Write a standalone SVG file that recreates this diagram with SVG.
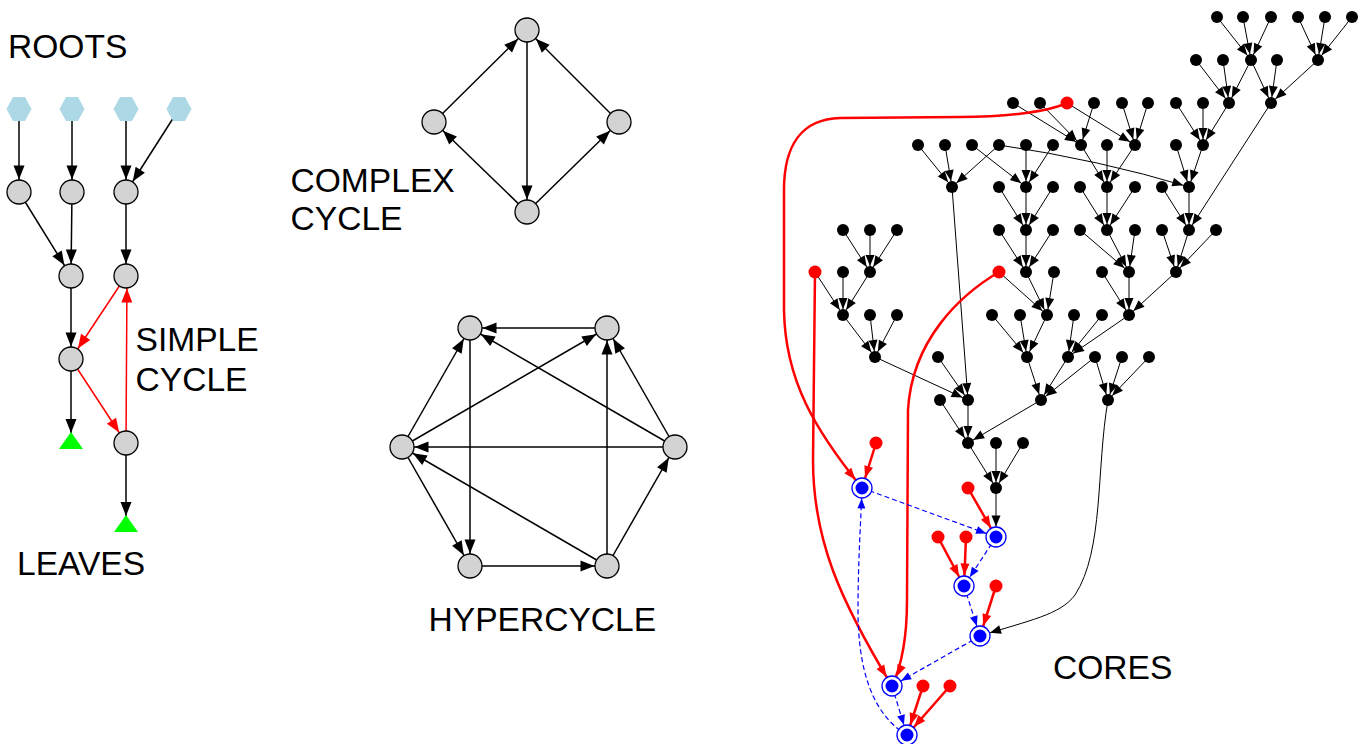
<svg xmlns="http://www.w3.org/2000/svg" width="1370" height="744" viewBox="0 0 1370 744">
<style>
.e{fill:none;stroke:#000;stroke-width:1.5;marker-end:url(#mL)}
.er{fill:none;stroke:#f00;stroke-width:1.5;marker-end:url(#mLR)}
.t{fill:none;stroke:#000;stroke-width:1;marker-end:url(#mK)}
.tb{fill:none;stroke:#000;stroke-width:1;marker-end:url(#mKB)}
.tr{fill:none;stroke:#f00;stroke-width:2.5;marker-end:url(#mR)}
.td{fill:none;stroke:#00f;stroke-width:1.2;stroke-dasharray:5,3;marker-end:url(#mB)}
.g{fill:#d3d3d3;stroke:#000;stroke-width:1.3}
.k{fill:#000}
.r{fill:#f00}
.hx{fill:#add8e6}
.lf{fill:#0f0}
.bo{fill:#fff;stroke:#00f;stroke-width:1.3}
.bi{fill:#00f}
text{font-family:"Liberation Sans",Arial,Helvetica,sans-serif;font-size:33.6px;fill:#000}
</style>
<defs>
<marker id="mL" markerUnits="userSpaceOnUse" markerWidth="14" markerHeight="11" refX="26.5" refY="5.5" orient="auto" overflow="visible"><path d="M0,0L14,5.5L0,11z" fill="#000"/></marker>
<marker id="mLR" markerUnits="userSpaceOnUse" markerWidth="14" markerHeight="11" refX="26.5" refY="5.5" orient="auto" overflow="visible"><path d="M0,0L14,5.5L0,11z" fill="#f00"/></marker>
<marker id="mK" markerUnits="userSpaceOnUse" markerWidth="11" markerHeight="9" refX="17" refY="4.5" orient="auto" overflow="visible"><path d="M0,0L11,4.5L0,9z" fill="#000"/></marker>
<marker id="mKB" markerUnits="userSpaceOnUse" markerWidth="11" markerHeight="9" refX="21.5" refY="4.5" orient="auto" overflow="visible"><path d="M0,0L11,4.5L0,9z" fill="#000"/></marker>
<marker id="mR" markerUnits="userSpaceOnUse" markerWidth="12" markerHeight="9" refX="22.5" refY="4.5" orient="auto" overflow="visible"><path d="M0,0L12,4.5L0,9z" fill="#f00"/></marker>
<marker id="mB" markerUnits="userSpaceOnUse" markerWidth="10" markerHeight="8" refX="20.5" refY="4" orient="auto" overflow="visible"><path d="M0,0L10,4L0,8z" fill="#00f"/></marker>
</defs>
<rect width="1370" height="744" fill="#fff"/>

<g id="connectors">
<!-- left -->
<line class="e" x1="19" y1="109" x2="19" y2="192"/>
<line class="e" x1="72" y1="109" x2="72" y2="192"/>
<line class="e" x1="126" y1="109" x2="126" y2="192"/>
<line class="e" x1="179" y1="109" x2="126" y2="192"/>
<line class="e" x1="19" y1="192" x2="71" y2="276"/>
<line class="e" x1="72" y1="192" x2="71" y2="276"/>
<line class="e" x1="126" y1="192" x2="126" y2="276"/>
<line class="e" x1="71" y1="276" x2="71" y2="359"/>
<line class="e" x1="71" y1="359" x2="71" y2="445.5"/>
<line class="e" x1="126" y1="443" x2="126" y2="528.5"/>
<line class="er" x1="126" y1="276" x2="71" y2="359"/>
<line class="er" x1="71" y1="359" x2="126" y2="443"/>
<line class="er" x1="126" y1="443" x2="127" y2="276"/>
<!-- complex cycle -->
<line class="e" x1="434" y1="122" x2="527" y2="30"/>
<line class="e" x1="527" y1="212" x2="434" y2="122"/>
<line class="e" x1="527" y1="30" x2="527" y2="212"/>
<line class="e" x1="527" y1="212" x2="619" y2="122"/>
<line class="e" x1="619" y1="122" x2="527" y2="30"/>
<!-- hypercycle -->
<line class="e" x1="607" y1="328" x2="470" y2="328"/>
<line class="e" x1="402" y1="447" x2="470" y2="328"/>
<line class="e" x1="675" y1="447" x2="470" y2="328"/>
<line class="e" x1="402" y1="447" x2="607" y2="328"/>
<line class="e" x1="607" y1="566" x2="607" y2="328"/>
<line class="e" x1="675" y1="447" x2="607" y2="328"/>
<line class="e" x1="470" y1="328" x2="470" y2="566"/>
<line class="e" x1="402" y1="447" x2="470" y2="566"/>
<line class="e" x1="675" y1="447" x2="402" y2="447"/>
<line class="e" x1="607" y1="566" x2="402" y2="447"/>
<line class="e" x1="470" y1="566" x2="607" y2="566"/>
<line class="e" x1="607" y1="566" x2="675" y2="447"/>
<!-- tree -->
<line class="t" x1="1217" y1="17" x2="1251" y2="60"/>
<line class="t" x1="1243" y1="17" x2="1251" y2="60"/>
<line class="t" x1="1271" y1="17" x2="1251" y2="60"/>
<line class="t" x1="1298" y1="17" x2="1318" y2="60"/>
<line class="t" x1="1325" y1="17" x2="1318" y2="60"/>
<line class="t" x1="1352" y1="17" x2="1318" y2="60"/>
<line class="t" x1="1196" y1="60" x2="1229" y2="103"/>
<line class="t" x1="1223" y1="60" x2="1229" y2="103"/>
<line class="t" x1="1251" y1="60" x2="1229" y2="103"/>
<line class="t" x1="1251" y1="60" x2="1271" y2="103"/>
<line class="t" x1="1277" y1="60" x2="1271" y2="103"/>
<line class="t" x1="1318" y1="60" x2="1271" y2="103"/>
<line class="t" x1="1013" y1="103" x2="1081" y2="145"/>
<line class="t" x1="1040" y1="103" x2="1081" y2="145"/>
<line class="t" x1="1094" y1="103" x2="1081" y2="145"/>
<line class="t" x1="1067" y1="103" x2="1135" y2="145"/>
<line class="t" x1="1122" y1="103" x2="1135" y2="145"/>
<line class="t" x1="1148" y1="103" x2="1135" y2="145"/>
<line class="t" x1="1176" y1="103" x2="1203" y2="145"/>
<line class="t" x1="1203" y1="103" x2="1203" y2="145"/>
<line class="t" x1="1229" y1="103" x2="1203" y2="145"/>
<line class="t" x1="918" y1="145" x2="952" y2="187"/>
<line class="t" x1="945" y1="145" x2="952" y2="187"/>
<line class="t" x1="999" y1="145" x2="952" y2="187"/>
<line class="t" x1="972" y1="145" x2="1026" y2="187"/>
<line class="t" x1="1026" y1="145" x2="1026" y2="187"/>
<line class="t" x1="1053" y1="145" x2="1026" y2="187"/>
<line class="t" x1="1081" y1="145" x2="1107" y2="187"/>
<line class="t" x1="1107" y1="145" x2="1107" y2="187"/>
<line class="t" x1="1135" y1="145" x2="1107" y2="187"/>
<path class="t" d="M999,145 Q1100,160 1189,187"/>
<line class="t" x1="1176" y1="145" x2="1189" y2="187"/>
<line class="t" x1="1203" y1="145" x2="1189" y2="187"/>
<line class="t" x1="999" y1="187" x2="1026" y2="230"/>
<line class="t" x1="1026" y1="187" x2="1026" y2="230"/>
<line class="t" x1="1053" y1="187" x2="1026" y2="230"/>
<line class="t" x1="1080" y1="187" x2="1107" y2="230"/>
<line class="t" x1="1107" y1="187" x2="1107" y2="230"/>
<line class="t" x1="1135" y1="187" x2="1107" y2="230"/>
<line class="t" x1="1162" y1="187" x2="1189" y2="230"/>
<line class="t" x1="1189" y1="187" x2="1189" y2="230"/>
<line class="t" x1="1271" y1="103" x2="1189" y2="230"/>
<line class="t" x1="843" y1="230" x2="870" y2="272"/>
<line class="t" x1="870" y1="230" x2="870" y2="272"/>
<line class="t" x1="897" y1="230" x2="870" y2="272"/>
<line class="t" x1="999" y1="230" x2="1026" y2="272"/>
<line class="t" x1="1026" y1="230" x2="1026" y2="272"/>
<line class="t" x1="1053" y1="230" x2="1026" y2="272"/>
<line class="t" x1="1080" y1="230" x2="1129" y2="272"/>
<line class="t" x1="1107" y1="230" x2="1129" y2="272"/>
<line class="t" x1="1135" y1="230" x2="1129" y2="272"/>
<line class="t" x1="1162" y1="230" x2="1176" y2="272"/>
<line class="t" x1="1189" y1="230" x2="1176" y2="272"/>
<line class="t" x1="1216" y1="230" x2="1176" y2="272"/>
<line class="t" x1="815" y1="272" x2="843" y2="315"/>
<line class="t" x1="843" y1="272" x2="843" y2="315"/>
<line class="t" x1="870" y1="272" x2="843" y2="315"/>
<line class="t" x1="999" y1="272" x2="1047" y2="315"/>
<line class="t" x1="1026" y1="272" x2="1047" y2="315"/>
<line class="t" x1="1054" y1="272" x2="1047" y2="315"/>
<line class="t" x1="1102" y1="272" x2="1129" y2="315"/>
<line class="t" x1="1129" y1="272" x2="1129" y2="315"/>
<line class="t" x1="1176" y1="272" x2="1129" y2="315"/>
<line class="t" x1="843" y1="315" x2="875" y2="357"/>
<line class="t" x1="870" y1="315" x2="875" y2="357"/>
<line class="t" x1="897" y1="315" x2="875" y2="357"/>
<line class="t" x1="992" y1="315" x2="1027" y2="357"/>
<line class="t" x1="1020" y1="315" x2="1027" y2="357"/>
<line class="t" x1="1047" y1="315" x2="1027" y2="357"/>
<line class="t" x1="1074" y1="315" x2="1068" y2="357"/>
<line class="t" x1="1102" y1="315" x2="1068" y2="357"/>
<line class="t" x1="1129" y1="315" x2="1068" y2="357"/>
<line class="t" x1="875" y1="357" x2="968" y2="400"/>
<line class="t" x1="938" y1="357" x2="968" y2="400"/>
<line class="t" x1="952" y1="187" x2="968" y2="400"/>
<line class="t" x1="1027" y1="357" x2="1041" y2="400"/>
<line class="t" x1="1068" y1="357" x2="1041" y2="400"/>
<line class="t" x1="1095" y1="357" x2="1041" y2="400"/>
<line class="t" x1="1095" y1="357" x2="1108" y2="400"/>
<line class="t" x1="1122" y1="357" x2="1108" y2="400"/>
<line class="t" x1="1149" y1="357" x2="1108" y2="400"/>
<line class="t" x1="940" y1="400" x2="968" y2="443"/>
<line class="t" x1="968" y1="400" x2="968" y2="443"/>
<line class="t" x1="1041" y1="400" x2="968" y2="443"/>
<line class="t" x1="968" y1="443" x2="996" y2="488"/>
<line class="t" x1="996" y1="443" x2="996" y2="488"/>
<line class="t" x1="1023" y1="443" x2="996" y2="488"/>
<line class="tb" x1="996" y1="488" x2="996" y2="537"/>
<path class="tb" d="M1108,400 C1096,470 1104,550 1075,595 C1060,615 1030,620 980,636"/>
<!-- red into cores -->
<path class="tr" d="M1067,103 C1045,113 1000,117 960,117 L840,118 C802,119 784,145 784,190 L784,310 C785,380 815,430 862,488"/>
<path class="tr" d="M815,272 L813,460 C813,540 840,600 892,686"/>
<path class="tr" d="M999,272 C960,295 912,340 908,410 L907,600 C907,640 902,665 892,686"/>
<line class="tr" x1="876" y1="443" x2="862" y2="488"/>
<line class="tr" x1="968" y1="488" x2="996" y2="537"/>
<line class="tr" x1="938" y1="537" x2="964" y2="586"/>
<line class="tr" x1="966" y1="537" x2="964" y2="586"/>
<line class="tr" x1="996" y1="586" x2="980" y2="636"/>
<line class="tr" x1="923" y1="686" x2="907" y2="735"/>
<line class="tr" x1="950" y1="686" x2="907" y2="735"/>
<!-- core cycle -->
<line class="td" x1="862" y1="488" x2="996" y2="537"/>
<line class="td" x1="996" y1="537" x2="964" y2="586"/>
<line class="td" x1="964" y1="586" x2="980" y2="636"/>
<line class="td" x1="980" y1="636" x2="892" y2="686"/>
<line class="td" x1="892" y1="686" x2="907" y2="735"/>
<path class="td" d="M907,735 C868,712 858,660 858,610 C858,560 861,520 862,488"/>
</g>

<!-- left nodes -->
<g id="root1"><polygon class="hx" points="6.5,109 13,97 25,97 31.5,109 25,121 13,121"/></g>
<g id="root2"><polygon class="hx" points="59.5,109 66,97 78,97 84.5,109 78,121 66,121"/></g>
<g id="root3"><polygon class="hx" points="113.5,109 120,97 132,97 138.5,109 132,121 120,121"/></g>
<g id="root4"><polygon class="hx" points="166.5,109 173,97 185,97 191.5,109 185,121 173,121"/></g>
<g id="s1"><circle class="g" cx="19" cy="192" r="12"/></g>
<g id="s2"><circle class="g" cx="72" cy="192" r="12"/></g>
<g id="s3"><circle class="g" cx="126" cy="192" r="12"/></g>
<g id="s4"><circle class="g" cx="71" cy="276" r="12"/></g>
<g id="s5"><circle class="g" cx="126" cy="276" r="12"/></g>
<g id="s6"><circle class="g" cx="71" cy="359" r="12"/></g>
<g id="s7"><circle class="g" cx="126" cy="443" r="12"/></g>
<g id="leaf1"><polygon class="lf" points="71,432 59,449 83,449"/></g>
<g id="leaf2"><polygon class="lf" points="126,515 114,532 138,532"/></g>
<g id="lbl-roots"><text x="8" y="58">ROOTS</text></g>
<g id="lbl-simple"><text x="135.5" y="351">SIMPLE</text><text x="135.5" y="391">CYCLE</text></g>
<g id="lbl-leaves"><text x="17" y="575">LEAVES</text></g>

<!-- complex cycle -->
<g id="c1"><circle class="g" cx="527" cy="30" r="12"/></g>
<g id="c2"><circle class="g" cx="434" cy="122" r="12"/></g>
<g id="c3"><circle class="g" cx="619" cy="122" r="12"/></g>
<g id="c4"><circle class="g" cx="527" cy="212" r="12"/></g>
<g id="lbl-complex"><text x="290.5" y="192">COMPLEX</text><text x="290.5" y="230">CYCLE</text></g>

<!-- hypercycle -->
<g id="h1"><circle class="g" cx="470" cy="328" r="12"/></g>
<g id="h2"><circle class="g" cx="607" cy="328" r="12"/></g>
<g id="h3"><circle class="g" cx="402" cy="447" r="12"/></g>
<g id="h4"><circle class="g" cx="675" cy="447" r="12"/></g>
<g id="h5"><circle class="g" cx="470" cy="566" r="12"/></g>
<g id="h6"><circle class="g" cx="607" cy="566" r="12"/></g>
<g id="lbl-hyper"><text x="428.5" y="631">HYPERCYCLE</text></g>

<!-- tree nodes -->
<g id="r17">
<g id="t17a"><circle class="k" cx="1217" cy="17" r="6"/></g>
<g id="t17b"><circle class="k" cx="1243" cy="17" r="6"/></g>
<g id="t17c"><circle class="k" cx="1271" cy="17" r="6"/></g>
<g id="t17d"><circle class="k" cx="1298" cy="17" r="6"/></g>
<g id="t17e"><circle class="k" cx="1325" cy="17" r="6"/></g>
<g id="t17f"><circle class="k" cx="1352" cy="17" r="6"/></g>
</g>
<g id="r60">
<g id="t60a"><circle class="k" cx="1196" cy="60" r="6"/></g>
<g id="t60b"><circle class="k" cx="1223" cy="60" r="6"/></g>
<g id="t60c"><circle class="k" cx="1251" cy="60" r="6"/></g>
<g id="t60d"><circle class="k" cx="1277" cy="60" r="6"/></g>
<g id="t60e"><circle class="k" cx="1318" cy="60" r="6"/></g>
</g>
<g id="r103">
<g id="t103a"><circle class="k" cx="1013" cy="103" r="6"/></g>
<g id="t103b"><circle class="k" cx="1040" cy="103" r="6"/></g>
<g id="t103c"><circle class="r" cx="1067" cy="103" r="6.5"/></g>
<g id="t103d"><circle class="k" cx="1094" cy="103" r="6"/></g>
<g id="t103e"><circle class="k" cx="1122" cy="103" r="6"/></g>
<g id="t103f"><circle class="k" cx="1148" cy="103" r="6"/></g>
<g id="t103g"><circle class="k" cx="1176" cy="103" r="6"/></g>
<g id="t103h"><circle class="k" cx="1203" cy="103" r="6"/></g>
<g id="t103i"><circle class="k" cx="1229" cy="103" r="6"/></g>
<g id="t103j"><circle class="k" cx="1271" cy="103" r="6"/></g>
</g>
<g id="r145">
<g id="t145a"><circle class="k" cx="918" cy="145" r="6"/></g>
<g id="t145b"><circle class="k" cx="945" cy="145" r="6"/></g>
<g id="t145c"><circle class="k" cx="972" cy="145" r="6"/></g>
<g id="t145d"><circle class="k" cx="999" cy="145" r="6"/></g>
<g id="t145e"><circle class="k" cx="1026" cy="145" r="6"/></g>
<g id="t145f"><circle class="k" cx="1053" cy="145" r="6"/></g>
<g id="t145g"><circle class="k" cx="1081" cy="145" r="6"/></g>
<g id="t145h"><circle class="k" cx="1107" cy="145" r="6"/></g>
<g id="t145i"><circle class="k" cx="1135" cy="145" r="6"/></g>
<g id="t145j"><circle class="k" cx="1176" cy="145" r="6"/></g>
<g id="t145k"><circle class="k" cx="1203" cy="145" r="6"/></g>
</g>
<g id="r187">
<g id="t187a"><circle class="k" cx="952" cy="187" r="6"/></g>
<g id="t187b"><circle class="k" cx="999" cy="187" r="6"/></g>
<g id="t187c"><circle class="k" cx="1026" cy="187" r="6"/></g>
<g id="t187d"><circle class="k" cx="1053" cy="187" r="6"/></g>
<g id="t187e"><circle class="k" cx="1080" cy="187" r="6"/></g>
<g id="t187f"><circle class="k" cx="1107" cy="187" r="6"/></g>
<g id="t187g"><circle class="k" cx="1135" cy="187" r="6"/></g>
<g id="t187h"><circle class="k" cx="1162" cy="187" r="6"/></g>
<g id="t187i"><circle class="k" cx="1189" cy="187" r="6"/></g>
</g>
<g id="r230">
<g id="t230a"><circle class="k" cx="843" cy="230" r="6"/></g>
<g id="t230b"><circle class="k" cx="870" cy="230" r="6"/></g>
<g id="t230c"><circle class="k" cx="897" cy="230" r="6"/></g>
<g id="t230d"><circle class="k" cx="999" cy="230" r="6"/></g>
<g id="t230e"><circle class="k" cx="1026" cy="230" r="6"/></g>
<g id="t230f"><circle class="k" cx="1053" cy="230" r="6"/></g>
<g id="t230g"><circle class="k" cx="1080" cy="230" r="6"/></g>
<g id="t230h"><circle class="k" cx="1107" cy="230" r="6"/></g>
<g id="t230i"><circle class="k" cx="1135" cy="230" r="6"/></g>
<g id="t230j"><circle class="k" cx="1162" cy="230" r="6"/></g>
<g id="t230k"><circle class="k" cx="1189" cy="230" r="6"/></g>
<g id="t230l"><circle class="k" cx="1216" cy="230" r="6"/></g>
</g>
<g id="r272">
<g id="t272a"><circle class="r" cx="815" cy="272" r="6.5"/></g>
<g id="t272b"><circle class="k" cx="843" cy="272" r="6"/></g>
<g id="t272c"><circle class="k" cx="870" cy="272" r="6"/></g>
<g id="t272d"><circle class="r" cx="999" cy="272" r="6.5"/></g>
<g id="t272e"><circle class="k" cx="1026" cy="272" r="6"/></g>
<g id="t272f"><circle class="k" cx="1054" cy="272" r="6"/></g>
<g id="t272g"><circle class="k" cx="1102" cy="272" r="6"/></g>
<g id="t272h"><circle class="k" cx="1129" cy="272" r="6"/></g>
<g id="t272i"><circle class="k" cx="1176" cy="272" r="6"/></g>
</g>
<g id="r315">
<g id="t315a"><circle class="k" cx="843" cy="315" r="6"/></g>
<g id="t315b"><circle class="k" cx="870" cy="315" r="6"/></g>
<g id="t315c"><circle class="k" cx="897" cy="315" r="6"/></g>
<g id="t315d"><circle class="k" cx="992" cy="315" r="6"/></g>
<g id="t315e"><circle class="k" cx="1020" cy="315" r="6"/></g>
<g id="t315f"><circle class="k" cx="1047" cy="315" r="6"/></g>
<g id="t315g"><circle class="k" cx="1074" cy="315" r="6"/></g>
<g id="t315h"><circle class="k" cx="1102" cy="315" r="6"/></g>
<g id="t315i"><circle class="k" cx="1129" cy="315" r="6"/></g>
</g>
<g id="r357">
<g id="t357a"><circle class="k" cx="875" cy="357" r="6"/></g>
<g id="t357b"><circle class="k" cx="938" cy="357" r="6"/></g>
<g id="t357c"><circle class="k" cx="1027" cy="357" r="6"/></g>
<g id="t357d"><circle class="k" cx="1068" cy="357" r="6"/></g>
<g id="t357e"><circle class="k" cx="1095" cy="357" r="6"/></g>
<g id="t357f"><circle class="k" cx="1122" cy="357" r="6"/></g>
<g id="t357g"><circle class="k" cx="1149" cy="357" r="6"/></g>
</g>
<g id="r400">
<g id="t400a"><circle class="k" cx="940" cy="400" r="6"/></g>
<g id="t400b"><circle class="k" cx="968" cy="400" r="6"/></g>
<g id="t400c"><circle class="k" cx="1041" cy="400" r="6"/></g>
<g id="t400d"><circle class="k" cx="1108" cy="400" r="6"/></g>
</g>
<g id="r443">
<g id="t443a"><circle class="r" cx="876" cy="443" r="6.5"/></g>
<g id="t443b"><circle class="k" cx="968" cy="443" r="6"/></g>
<g id="t443c"><circle class="k" cx="996" cy="443" r="6"/></g>
<g id="t443d"><circle class="k" cx="1023" cy="443" r="6"/></g>
</g>
<g id="t488a"><circle class="r" cx="968" cy="488" r="6.5"/></g>
<g id="t488b"><circle class="k" cx="996" cy="488" r="6"/></g>
<g id="t537a"><circle class="r" cx="938" cy="537" r="6.5"/></g>
<g id="t537b"><circle class="r" cx="966" cy="537" r="6.5"/></g>
<g id="t586a"><circle class="r" cx="996" cy="586" r="6.5"/></g>
<g id="t686a"><circle class="r" cx="923" cy="686" r="6.5"/></g>
<g id="t686b"><circle class="r" cx="950" cy="686" r="6.5"/></g>
<!-- cores -->
<g id="core1"><circle class="bo" cx="862" cy="488" r="10"/><circle class="bi" cx="862" cy="488" r="6.5"/></g>
<g id="core2"><circle class="bo" cx="996" cy="537" r="10"/><circle class="bi" cx="996" cy="537" r="6.5"/></g>
<g id="core3"><circle class="bo" cx="964" cy="586" r="10"/><circle class="bi" cx="964" cy="586" r="6.5"/></g>
<g id="core4"><circle class="bo" cx="980" cy="636" r="10"/><circle class="bi" cx="980" cy="636" r="6.5"/></g>
<g id="core5"><circle class="bo" cx="892" cy="686" r="10"/><circle class="bi" cx="892" cy="686" r="6.5"/></g>
<g id="core6"><circle class="bo" cx="907" cy="735" r="10"/><circle class="bi" cx="907" cy="735" r="6.5"/></g>
<g id="lbl-cores"><text x="1053" y="679">CORES</text></g>
</svg>
